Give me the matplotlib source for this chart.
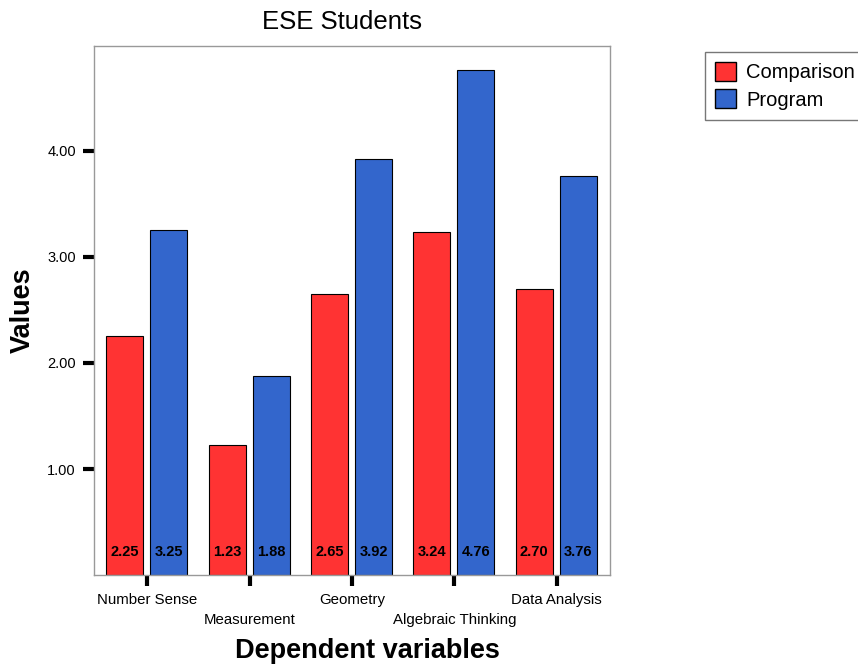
import numpy as np
import matplotlib
matplotlib.use("Agg")
import matplotlib.pyplot as plt
from matplotlib.patches import Patch

plt.rcParams['font.family'] = ['Liberation Sans', 'DejaVu Sans']

categories = ["Number Sense", "Measurement", "Geometry", "Algebraic Thinking", "Data Analysis"]
comparison = [2.25, 1.23, 2.65, 3.24, 2.70]
program = [3.25, 1.88, 3.92, 4.76, 3.76]
yticks = [1.0, 2.0, 3.0, 4.0]

red = "#FF3333"
blue = "#3366CC"

fig = plt.figure(figsize=(8.58, 6.68), dpi=100)
ax = fig.add_axes([0.1096, 0.1392, 0.6014, 0.7919])

x = np.arange(len(categories))
w = 0.36
ax.bar(x - 0.22, comparison, w, color=red, edgecolor="black", linewidth=0.8)
ax.bar(x + 0.21, program, w, color=blue, edgecolor="black", linewidth=0.8)

# values printed near the base of each bar
for xi, c, p in zip(x, comparison, program):
    ax.text(xi - 0.22, 0.22, f"{c:.2f}", ha="center", va="center",
            fontsize=10.5, fontweight="bold")
    ax.text(xi + 0.21, 0.22, f"{p:.2f}", ha="center", va="center",
            fontsize=10.5, fontweight="bold")

ax.set_xlim(-0.52, 4.52)
ax.set_ylim(0, 4.99)

ax.set_yticks(yticks)
ax.set_yticklabels([f"{v:.2f}" for v in yticks], fontsize=10.5)
ax.set_xticks(x)
ax.set_xticklabels([c if i % 2 == 0 else "\n" + c for i, c in enumerate(categories)],
                   fontsize=10.8, linespacing=1.5)
ax.tick_params(axis="both", direction="out", length=8, width=3, color="black", pad=5)
ax.tick_params(axis="x", pad=5)

for s in ax.spines.values():
    s.set_color("#999999")
    s.set_linewidth(1.0)

ax.set_title("ESE Students", fontsize=18.5, pad=12, x=0.48)
ax.set_xlabel("Dependent variables", fontsize=19.5, fontweight="bold")
ax.xaxis.set_label_coords(0.53, -0.12)
ax.set_ylabel("Values", fontsize=19.5, fontweight="bold", labelpad=8)

handles = [Patch(facecolor=red, edgecolor="black", label="Comparison"),
           Patch(facecolor=blue, edgecolor="black", label="Program")]
leg = fig.legend(handles=handles, loc="upper left", bbox_to_anchor=(0.8217, 0.922),
                 borderaxespad=0, fontsize=14.5, frameon=True, fancybox=False,
                 handlelength=1.05, handleheight=1.05, handletextpad=0.5,
                 borderpad=0.5, labelspacing=0.35)
leg.get_frame().set_edgecolor("#555555")
leg.get_frame().set_linewidth(1.0)

fig.savefig("out.png", dpi=100)
